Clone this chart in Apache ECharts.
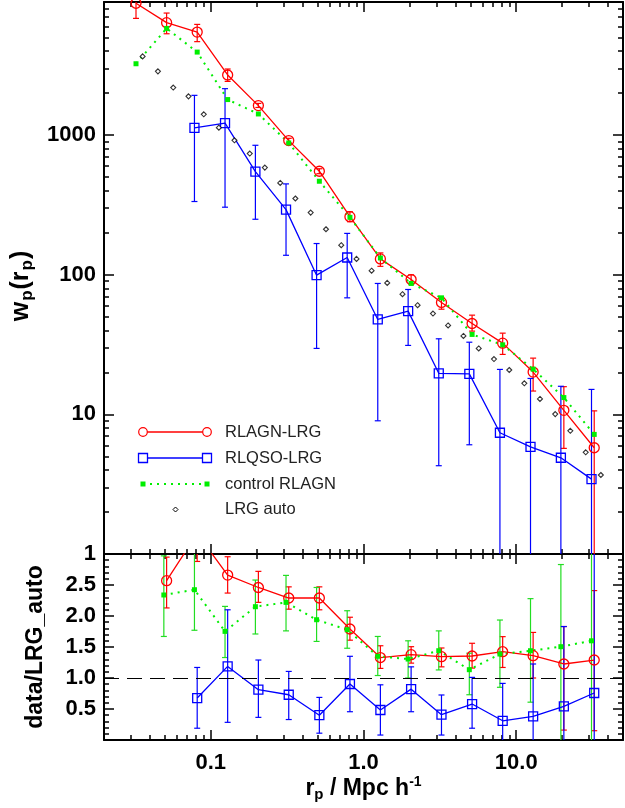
<!DOCTYPE html>
<html><head><meta charset="utf-8">
<script src="https://cdn.jsdelivr.net/npm/echarts@6/dist/echarts.min.js"></script>
<style>html,body{margin:0;padding:0;background:#fff}#c{width:625px;height:808px}</style>
</head><body><div id="c"></div>
<script>
// ---------------- data ----------------
const rpBins  = [0.0324, 0.0514, 0.0815, 0.129, 0.205, 0.324, 0.514, 0.815, 1.29, 2.05, 3.24, 5.14, 8.15, 12.9, 20.5, 32.4];
const rpShift = [0.0311, 0.0493, 0.0782, 0.124, 0.196, 0.311, 0.493, 0.782, 1.24, 1.96, 3.11, 4.93, 7.82, 12.4, 19.6, 31.1];

const wpRlagn   = [8810, 6400, 5480, 2700, 1630, 915, 552, 261, 130, 92.5, 63.4, 44.8, 32.4, 20.1, 10.7, 5.77];
const wpRlagnLo = [6870, 5330, 4680, 2430, 1580, 880, 530, 240, 115, 86, 56.7, 39.5, 26.9, 14.7, 5.71, 0.5];
const wpRlagnHi = [10000, 7500, 6220, 2980, 1690, 950, 575, 283, 143.5, 100, 68.8, 51.4, 38.2, 25.3, 15.8, 10.6];

// RLQSO starts at the 3rd bin
const wpRlqso   = [1127, 1222, 549, 293, 99.4, 133, 47.9, 54.9, 19.7, 19.5, 7.39, 5.86, 4.89, 3.44];
const wpRlqsoLo = [335, 305, 250, 138, 29.7, 68.4, 9.0, 31.2, 4.29, 6.06, 0.5, 0.5, 0.5, 0.5];
const wpRlqsoHi = [1930, 2155, 847, 448, 167.5, 198, 86.7, 78.5, 34.8, 32.9, 21, 18.1, 15.9, 15.1];

const wpControl = [3250, 5820, 3940, 1800, 1420, 880, 468, 258, 132, 86.7, 68.4, 37.4, 31.5, 21.1, 13.2, 7.19];

const rpAuto = [0.0358, 0.0451, 0.0568, 0.0715, 0.0900, 0.113, 0.143, 0.180, 0.226, 0.285, 0.358, 0.451, 0.568, 0.715, 0.900, 1.13, 1.43, 1.80, 2.26, 2.85, 3.58, 4.51, 5.68, 7.15, 9.00, 11.3, 14.3, 18.0, 22.6, 28.5, 35.8];
const wpAuto = [3670, 2867, 2194, 1898, 1412, 1133, 920, 739, 586, 455, 352, 279, 212, 163, 130, 107, 87.5, 72.6, 60.6, 52.8, 43.4, 36.5, 29.7, 24.9, 20.8, 16.7, 12.9, 10.05, 7.63, 5.35, 3.68];

// ratios: RLAGN and control start at 2nd bin, RLQSO at 3rd bin
const ratioRlagn   = [2.57, 3.33, 2.66, 2.46, 2.29, 2.29, 1.79, 1.33, 1.376, 1.344, 1.355, 1.424, 1.36, 1.226, 1.29];
const ratioRlagnLo = [2.13, 2.88, 2.37, 2.22, 2.11, 2.10, 1.61, 1.155, 1.24, 1.18, 1.16, 1.17, 1.0, 0.16, 0.15];
const ratioRlagnHi = [2.95, 3.8, 2.956, 2.72, 2.47, 2.47, 1.98, 1.52, 1.505, 1.484, 1.56, 1.667, 1.735, 1.83, 2.41];

const ratioControl   = [2.339, 2.424, 1.752, 2.15, 2.22, 1.94, 1.779, 1.35, 1.306, 1.44, 1.134, 1.387, 1.44, 1.505, 1.60];
const ratioControlLo = [1.67, 1.77, 1.33, 1.71, 1.76, 1.59, 1.48, 1.04, 1.0, 1.13, 0.73, 0.85, 0.61, -0.2, -0.2];
const ratioControlHi = [2.97, 3.3, 2.155, 2.58, 2.655, 2.46, 2.085, 1.67, 1.60, 1.76, 1.40, 1.935, 2.28, 2.83, 3.3];

const ratioRlqso   = [0.677, 1.187, 0.811, 0.73, 0.40, 0.903, 0.484, 0.82, 0.408, 0.58, 0.31, 0.38, 0.542, 0.758];
const ratioRlqsoLo = [0.19, 0.285, 0.365, 0.33, 0.11, 0.456, 0.08, 0.456, 0.08, 0.19, -0.2, -0.2, -0.2, -0.2];
const ratioRlqsoHi = [1.17, 2.10, 1.29, 1.106, 0.687, 1.35, 0.89, 1.18, 0.726, 1.01, 0.913, 1.226, 1.83, 3.3];

const unityLevel = 1.0;

// axes / ticks
const xMin = 0.02, xMax = 50;
const xMajorTicks = [0.1, 1, 10];
const xTickLabels = ['0.1', '1.0', '10.0'];
const xMinorTicks = [0.03,0.04,0.05,0.06,0.07,0.08,0.09, 0.2,0.3,0.4,0.5,0.6,0.7,0.8,0.9, 2,3,4,5,6,7,8,9, 20,30,40];
const wpMin = 1, wpMax = 9000;
const wpMajorTicks = [10, 100, 1000];
const wpTickLabels = [1, 10, 100, 1000];
const wpMinorTicks = [2,3,4,5,6,7,8,9, 20,30,40,50,60,70,80,90, 200,300,400,500,600,700,800,900, 2000,3000,4000,5000,6000,7000,8000];
const ratioMin = 0, ratioMax = 3;
const ratioTickLabels = [0.5, 1.0, 1.5, 2.0, 2.5];

const legendNames = ['RLAGN-LRG', 'RLQSO-LRG', 'control RLAGN', 'LRG auto'];

// ---------------- chart ----------------
const FONT = "'Liberation Sans', Arial, Helvetica, sans-serif";
const RED = '#ff0000', BLUE = '#0000ff', GREEN = '#00ee00', GREEN_BAR = '#22dd22';

const grids = [
  {left: 104, top: 2, width: 519, height: 552},
  {left: 104, top: 554, width: 519, height: 186}
];

const labelStyle = {show: true, fontSize: 22, fontWeight: 'bold', color: '#000', fontFamily: FONT};
const richX = {
  b: {fontSize: 23, fontWeight: 'bold', color: '#000', fontFamily: FONT},
  s: {fontSize: 15, fontWeight: 'bold', color: '#000', fontFamily: FONT, padding: [12, 0, 0, 0]},
  u: {fontSize: 14, fontWeight: 'bold', color: '#000', fontFamily: FONT, padding: [0, 0, 14, 0]}
};
const richY = {
  b: {fontSize: 25, fontWeight: 'bold', color: '#000', fontFamily: FONT},
  s: {fontSize: 17, fontWeight: 'bold', color: '#000', fontFamily: FONT, padding: [13, 1, 0, 1]}
};

function xAxes(g) {
  const base = {type: 'log', gridIndex: g, min: xMin, max: xMax, splitLine: {show: false},
    axisLine: {show: false, onZero: false}, axisLabel: {show: false}};
  const line = {show: true, onZero: false, lineStyle: {color: '#000', width: 2}};
  const major = {show: true, inside: true, length: 10, customValues: xMajorTicks, lineStyle: {color: '#000', width: 1.5}};
  const minor = {show: true, inside: true, length: 5, customValues: xMinorTicks, lineStyle: {color: '#000', width: 1.5}};
  const bottomMajor = Object.assign({}, base, {position: 'bottom', axisLine: line, axisTick: major});
  if (g === 1) {
    bottomMajor.axisLabel = Object.assign({}, labelStyle, {customValues: xMajorTicks, margin: 12,
      formatter: v => xTickLabels[xMajorTicks.findIndex(t => Math.abs(t - v) / t < 1e-6)]});
    bottomMajor.name = '{b|r}{s|p}{b| / Mpc h}{u|-1}';
    bottomMajor.nameLocation = 'middle';
    bottomMajor.nameGap = 33;
    bottomMajor.nameTextStyle = {rich: richX};
  }
  return [
    bottomMajor,
    Object.assign({}, base, {position: 'bottom', axisTick: minor}),
    Object.assign({}, base, {position: 'top', axisLine: line, axisTick: major}),
    Object.assign({}, base, {position: 'top', axisTick: minor})
  ];
}

function yAxesTop() {
  const base = {type: 'log', gridIndex: 0, min: wpMin, max: wpMax, splitLine: {show: false},
    axisLine: {show: false}, axisLabel: {show: false}};
  const line = {show: true, onZero: false, lineStyle: {color: '#000', width: 2}};
  const major = {show: true, inside: true, length: 10, customValues: wpMajorTicks, lineStyle: {color: '#000', width: 1.5}};
  const minor = {show: true, inside: true, length: 5, customValues: wpMinorTicks, lineStyle: {color: '#000', width: 1.5}};
  return [
    Object.assign({}, base, {position: 'left', axisLine: line, axisTick: major,
      axisLabel: Object.assign({}, labelStyle, {customValues: wpTickLabels, margin: 8, formatter: v => String(Math.round(v))}),
      name: '{b|w}{s|p}{b|(r}{s|p}{b|)}', nameLocation: 'middle', nameRotate: 90, nameGap: 67,
      nameTextStyle: {rich: richY, padding: [0, 16, 0, 0]}}),
    Object.assign({}, base, {position: 'left', axisTick: minor}),
    Object.assign({}, base, {position: 'right', axisLine: line, axisTick: major}),
    Object.assign({}, base, {position: 'right', axisTick: minor})
  ];
}

function yAxesBottom() {
  const base = {type: 'value', gridIndex: 1, min: ratioMin, max: ratioMax, interval: 0.5, splitLine: {show: false},
    axisLine: {show: true, onZero: false, lineStyle: {color: '#000', width: 2}},
    axisTick: {show: true, inside: true, length: 10, lineStyle: {color: '#000', width: 1.5}},
    minorTick: {show: true, splitNumber: 5, length: 5, lineStyle: {color: '#000', width: 1.5}},
    axisLabel: {show: false}};
  return [
    Object.assign({}, base, {position: 'left',
      axisLabel: Object.assign({}, labelStyle, {customValues: ratioTickLabels, margin: 8, formatter: v => v.toFixed(1)}),
      name: 'data/LRG_auto', nameLocation: 'middle', nameRotate: 90, nameGap: 57,
      nameTextStyle: {fontSize: 23, fontWeight: 'bold', color: '#000', fontFamily: FONT}}),
    Object.assign({}, base, {position: 'right'})
  ];
}

function errRender(color, lw) {
  return function (params, api) {
    const x = api.value(0), lo = api.value(1), hi = api.value(2);
    const cs = params.coordSys;
    const top = cs.y, bot = cs.y + cs.height;
    const pH = api.coord([x, hi]);
    const pL = api.coord([x, lo]);
    const px = pH[0];
    const yH = pH[1], yL = pL[1];
    const y1 = Math.max(yH, top), y2 = Math.min(yL, bot);
    const st = {stroke: color, lineWidth: lw};
    const ch = [];
    if (y2 > y1) ch.push({type: 'line', shape: {x1: px, y1: y1, x2: px, y2: y2}, style: st});
    const cw = 3;
    if (yH >= top - 0.5 && yH <= bot) ch.push({type: 'line', shape: {x1: px - cw, y1: yH, x2: px + cw, y2: yH}, style: st});
    if (yL <= bot + 0.5 && yL >= top) ch.push({type: 'line', shape: {x1: px - cw, y1: yL, x2: px + cw, y2: yL}, style: st});
    return {type: 'group', children: ch};
  };
}

function errSeries(xs, lo, hi, color, xi, yi) {
  return {type: 'custom', xAxisIndex: xi, yAxisIndex: yi, renderItem: errRender(color, 1.2),
    data: xs.map((x, i) => [x, lo[i], hi[i]]), encode: {x: 0, y: [1, 2]}, silent: true, z: 2};
}

const hollow = c => ({color: 'rgba(255,255,255,0)', borderColor: c, borderWidth: 1.3});

const series = [
  // ---- top panel ----
  errSeries(rpBins, wpRlagnLo, wpRlagnHi, RED, 0, 0),
  {name: legendNames[0], type: 'line', xAxisIndex: 0, yAxisIndex: 0, data: rpBins.map((x, i) => [x, wpRlagn[i]]),
   symbol: 'circle', symbolSize: 10, showAllSymbol: true, itemStyle: hollow(RED), lineStyle: {color: RED, width: 1.3}, z: 3},
  errSeries(rpShift.slice(2), wpRlqsoLo, wpRlqsoHi, BLUE, 0, 0),
  {name: legendNames[1], type: 'line', xAxisIndex: 0, yAxisIndex: 0, data: rpShift.slice(2).map((x, i) => [x, wpRlqso[i]]),
   symbol: 'rect', symbolSize: 9, showAllSymbol: true, itemStyle: hollow(BLUE), lineStyle: {color: BLUE, width: 1.3}, z: 3},
  {name: legendNames[2], type: 'line', xAxisIndex: 0, yAxisIndex: 0, data: rpBins.map((x, i) => [x, wpControl[i]]),
   symbol: 'rect', symbolSize: 5, showAllSymbol: true, itemStyle: {color: GREEN}, lineStyle: {color: GREEN, width: 2, type: [2, 5]}, z: 3},
  {name: legendNames[3], type: 'scatter', xAxisIndex: 0, yAxisIndex: 0, data: rpAuto.map((x, i) => [x, wpAuto[i]]),
   symbol: 'diamond', symbolSize: 5, itemStyle: {color: '#fff', borderColor: '#000', borderWidth: 1.1}, z: 3},
  // ---- bottom panel ----
  errSeries(rpBins.slice(1), ratioRlagnLo, ratioRlagnHi, RED, 4, 4),
  {type: 'line', xAxisIndex: 4, yAxisIndex: 4, data: rpBins.slice(1).map((x, i) => [x, ratioRlagn[i]]),
   symbol: 'circle', symbolSize: 10, showAllSymbol: true, itemStyle: hollow(RED), lineStyle: {color: RED, width: 1.3}, z: 3,
   markLine: {silent: true, symbol: 'none', label: {show: false}, animation: false,
     lineStyle: {color: '#000', type: [15, 8], width: 1.2}, data: [{yAxis: unityLevel}]}},
  errSeries(rpShift.slice(1), ratioControlLo, ratioControlHi, GREEN_BAR, 4, 4),
  {type: 'line', xAxisIndex: 4, yAxisIndex: 4, data: rpShift.slice(1).map((x, i) => [x, ratioControl[i]]),
   symbol: 'rect', symbolSize: 5, showAllSymbol: true, itemStyle: {color: GREEN}, lineStyle: {color: GREEN, width: 2, type: [2, 5]}, z: 3},
  errSeries(rpBins.slice(2), ratioRlqsoLo, ratioRlqsoHi, BLUE, 4, 4),
  {type: 'line', xAxisIndex: 4, yAxisIndex: 4, data: rpBins.slice(2).map((x, i) => [x, ratioRlqso[i]]),
   symbol: 'rect', symbolSize: 9, showAllSymbol: true, itemStyle: hollow(BLUE), lineStyle: {color: BLUE, width: 1.3}, z: 3}
];

// legend drawn as graphic (inside the top panel)
const lgX0 = 143, lgX1 = 207, lgTextX = 225, lgRows = [432, 458, 484, 509.5];
const graphic = [];
graphic.push({type: 'line', shape: {x1: lgX0, y1: lgRows[0], x2: lgX1, y2: lgRows[0]}, style: {stroke: RED, lineWidth: 1.3}});
[lgX0, lgX1].forEach(x => graphic.push({type: 'circle', shape: {cx: x, cy: lgRows[0], r: 4.3}, style: {stroke: RED, fill: '#fff', lineWidth: 1.2}}));
graphic.push({type: 'line', shape: {x1: lgX0, y1: lgRows[1], x2: lgX1, y2: lgRows[1]}, style: {stroke: BLUE, lineWidth: 1.3}});
[lgX0, lgX1].forEach(x => graphic.push({type: 'rect', shape: {x: x - 4.5, y: lgRows[1] - 4.5, width: 9, height: 9}, style: {stroke: BLUE, fill: '#fff', lineWidth: 1.3}}));
graphic.push({type: 'line', shape: {x1: lgX0, y1: lgRows[2], x2: lgX1, y2: lgRows[2]}, style: {stroke: GREEN, lineWidth: 2, lineDash: [2, 5]}});
[lgX0, lgX1].forEach(x => graphic.push({type: 'rect', shape: {x: x - 2.5, y: lgRows[2] - 2.5, width: 5, height: 5}, style: {fill: GREEN}}));
graphic.push({type: 'polygon', shape: {points: [[175.5, lgRows[3] - 2.5], [178, lgRows[3]], [175.5, lgRows[3] + 2.5], [173, lgRows[3]]]}, style: {stroke: '#000', fill: '#fff', lineWidth: 1}});
legendNames.forEach((n, i) => graphic.push({type: 'text', x: lgTextX, y: lgRows[i],
  style: {text: n, fill: '#222', fontSize: 16.5, fontFamily: FONT, verticalAlign: 'middle', align: 'left'}}));

const chart = echarts.init(document.getElementById('c'), null, {renderer: 'canvas'});
chart.setOption({
  animation: false,
  backgroundColor: '#fff',
  grid: grids,
  xAxis: xAxes(0).concat(xAxes(1)),
  yAxis: yAxesTop().concat(yAxesBottom()),
  series: series,
  graphic: graphic
});
</script></body></html>
